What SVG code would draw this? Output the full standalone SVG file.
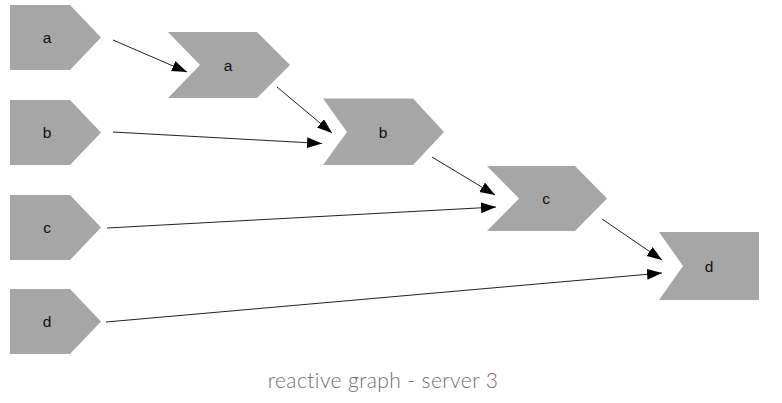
<svg xmlns="http://www.w3.org/2000/svg" width="782" height="403" viewBox="0 0 782 403">
<style>
.shape{fill:#a6a6a6;stroke:none}
.lbl{font-family:"Liberation Sans",Arial,sans-serif;font-size:15.5px;fill:#111;text-anchor:middle}
.edge{stroke:#222;stroke-width:1;fill:none}
.cap{font-family:"Lato","Open Sans",sans-serif;font-weight:300;font-size:21px;letter-spacing:0.4px;fill:#776d67;text-anchor:middle}
</style>
<defs>
<marker id="arr" markerUnits="userSpaceOnUse" markerWidth="16" markerHeight="12" refX="15" refY="5.5" orient="auto">
<path d="M0,0 L15,5.5 L0,11 z" fill="#000"/>
</marker>
</defs>
<rect width="782" height="403" fill="#fff"/>
<g id="src-a"><polygon class="shape" points="10,5 70,5 101,37.5 70,70 10,70"/><text class="lbl" x="47" y="43">a</text></g>
<g id="src-b"><polygon class="shape" points="10,100 70,100 101,132.5 70,165 10,165"/><text class="lbl" x="47" y="138">b</text></g>
<g id="src-c"><polygon class="shape" points="10,195 70,195 101,227.5 70,260 10,260"/><text class="lbl" x="47" y="233">c</text></g>
<g id="src-d"><polygon class="shape" points="10,289 70,289 101,321.5 70,354 10,354"/><text class="lbl" x="47" y="327">d</text></g>
<g id="node-a"><polygon class="shape" points="168,32 257,32 290,65 257,98 168,98 200,65"/><text class="lbl" x="228" y="71">a</text></g>
<g id="node-b"><polygon class="shape" points="323,98.5 413,98.5 444,132 413,165 323,165 347,132"/><text class="lbl" x="383" y="138">b</text></g>
<g id="node-c"><polygon class="shape" points="487,166 575,166 607,198.5 575,231 487,231 519,198.5"/><text class="lbl" x="546" y="204">c</text></g>
<g id="node-d"><polygon class="shape" points="659,232 759,232 759,300 659,300 683,266"/><text class="lbl" x="709" y="272">d</text></g>
<g id="connectors">
<line class="edge" x1="113" y1="40" x2="187" y2="72" marker-end="url(#arr)"/>
<line class="edge" x1="277" y1="87" x2="332" y2="133" marker-end="url(#arr)"/>
<line class="edge" x1="113" y1="132" x2="322" y2="143.5" marker-end="url(#arr)"/>
<line class="edge" x1="432" y1="157" x2="495" y2="195" marker-end="url(#arr)"/>
<line class="edge" x1="107" y1="228" x2="496" y2="207" marker-end="url(#arr)"/>
<line class="edge" x1="602" y1="219" x2="662" y2="260" marker-end="url(#arr)"/>
<line class="edge" x1="106" y1="322" x2="662" y2="273" marker-end="url(#arr)"/>
</g>
<text class="cap" x="383" y="388">reactive graph - server 3</text>
</svg>
